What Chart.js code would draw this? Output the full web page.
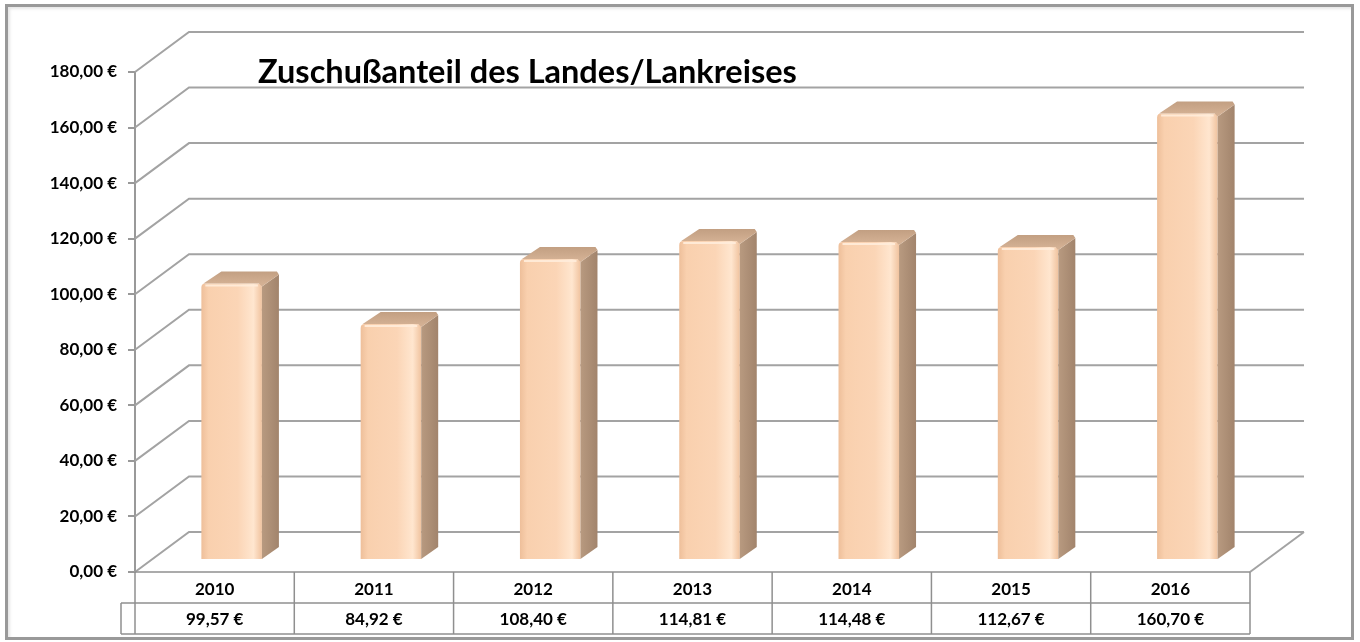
<!DOCTYPE html>
<html>
<head>
<meta charset="utf-8">
<script src="https://cdn.jsdelivr.net/npm/chart.js@4/dist/chart.umd.min.js"></script>
<style>
  html, body { margin: 0; padding: 0; background: #fff; }
  #wrap { position: relative; width: 1360px; height: 642px; }
  #frame {
    position: absolute; left: 5px; top: 4px; width: 1349px; height: 636px;
    border: 3px solid #999; box-sizing: border-box; pointer-events: none;
    box-shadow: inset 2px 2px 3px rgba(0,0,0,0.10);
  }
</style>
</head>
<body>
<div id="wrap">
  <canvas id="chart" width="1360" height="642"></canvas>
  <div id="frame"></div>
</div>
<script>
const years = ["2010", "2011", "2012", "2013", "2014", "2015", "2016"];
const amounts = [99.57, 84.92, 108.40, 114.81, 114.48, 112.67, 160.70];
const tickValues = [0, 20, 40, 60, 80, 100, 120, 140, 160, 180];
const chartTitle = "Zuschußanteil des Landes/Lankreises";

// 3D look: back wall offset, bar placement and bar depth
const WALL_X = 54, WALL_Y = -40;
const BAR_X = 17, BAR_Y = -12;
const SIDE_X = 17, SIDE_Y = -12;
const FONT = "Lato, 'Open Sans', sans-serif";

function euro(v) {
    return v.toFixed(2).replace(".", ",") + " €";
}

function line(ctx, x1, y1, x2, y2) {
    ctx.beginPath();
    ctx.moveTo(x1, y1);
    ctx.lineTo(x2, y2);
    ctx.stroke();
}

// front face of the columns
function frontFill(c) {
    const chart = c.chart;
    if (!chart.chartArea) return "#fad2b1";
    const x = chart.scales.x.getPixelForValue(c.dataIndex);
    const w = (chart.chartArea.right - chart.chartArea.left) / years.length * 0.38;
    const g = chart.ctx.createLinearGradient(x - w / 2, 0, x + w / 2, 0);
    g.addColorStop(0, "#eebf9a");
    g.addColorStop(0.12, "#f9d0ae");
    g.addColorStop(0.6, "#fbd5b6");
    g.addColorStop(0.86, "#ffe6cf");
    g.addColorStop(1, "#f0c39f");
    return g;
}

const walls = {
    id: "walls",
    beforeDatasetsDraw(chart) {
        const { ctx, chartArea: a, scales: { y } } = chart;
        ctx.save();
        ctx.strokeStyle = "#a3a3a3";
        ctx.lineWidth = 2;
        tickValues.forEach(v => {
            const py = y.getPixelForValue(v);
            ctx.beginPath();
            ctx.moveTo(a.left, py);
            ctx.lineTo(a.left + WALL_X, py + WALL_Y);
            ctx.lineTo(a.right + WALL_X, py + WALL_Y);
            ctx.stroke();
        });
        line(ctx, a.right, a.bottom, a.right + WALL_X, a.bottom + WALL_Y);

        ctx.fillStyle = "#000";
        ctx.font = "bold 32.5px " + FONT;
        ctx.textBaseline = "middle";
        ctx.textAlign = "left";
        ctx.fillText(chartTitle, 258, 73);
        ctx.restore();

        // columns stand a little behind the front edge
        ctx.save();
        ctx.translate(BAR_X, BAR_Y);
    },
    afterDatasetsDraw(chart) {
        const { ctx, chartArea: a, scales: { x } } = chart;

        chart.getDatasetMeta(0).data.forEach(bar => {
            const p = bar.getProps(["x", "y", "base", "width"], true);
            const l = p.x - p.width / 2, r = p.x + p.width / 2;

            let g = ctx.createLinearGradient(r, 0, r + SIDE_X, 0);
            g.addColorStop(0, "#b89a80");
            g.addColorStop(1, "#a2846c");
            ctx.fillStyle = g;
            ctx.beginPath();
            ctx.moveTo(r, p.y + 3);
            ctx.lineTo(r + SIDE_X, p.y + SIDE_Y + 3);
            ctx.lineTo(r + SIDE_X, p.base + SIDE_Y);
            ctx.lineTo(r, p.base);
            ctx.closePath();
            ctx.fill();

            g = ctx.createLinearGradient(0, p.y + SIDE_Y, 0, p.y);
            g.addColorStop(0, "#c29f82");
            g.addColorStop(1, "#d3b093");
            ctx.fillStyle = g;
            ctx.beginPath();
            ctx.moveTo(l + 2, p.y);
            ctx.lineTo(l + SIDE_X + 3, p.y + SIDE_Y);
            ctx.lineTo(r + SIDE_X - 2, p.y + SIDE_Y);
            ctx.lineTo(r + SIDE_X, p.y + SIDE_Y + 3);
            ctx.lineTo(r, p.y + 3);
            ctx.lineTo(r - 3, p.y);
            ctx.closePath();
            ctx.fill();

            ctx.strokeStyle = "rgba(255,236,218,0.9)";
            ctx.lineWidth = 2;
            line(ctx, l + 4, p.y + 2, r - 4, p.y + 2);
        });
        ctx.restore();

        // data table under the floor
        const top = a.bottom, mid = a.bottom + 31, bot = a.bottom + 62;
        const cw = (a.right - a.left) / years.length;
        ctx.save();
        ctx.strokeStyle = "#8f8f8f";
        ctx.lineWidth = 1.5;
        line(ctx, a.left, top, a.right, top);
        line(ctx, a.left - 14, mid, a.right, mid);
        line(ctx, a.left - 14, bot, a.right, bot);
        line(ctx, a.left - 14, mid, a.left - 14, bot);
        line(ctx, a.left, top, a.left, bot);
        for (let i = 1; i <= years.length; i++) {
            line(ctx, a.left + i * cw, top, a.left + i * cw, bot);
        }
        ctx.fillStyle = "#000";
        ctx.font = "bold 17px " + FONT;
        ctx.textAlign = "center";
        ctx.textBaseline = "middle";
        years.forEach((yr, i) => {
            const cx = x.getPixelForValue(i);
            ctx.fillText(yr, cx, top + 18);
            ctx.fillText(euro(amounts[i]), cx, mid + 17);
        });
        ctx.restore();
    }
};

new Chart(document.getElementById("chart"), {
    type: "bar",
    data: {
        labels: years,
        datasets: [{
            data: amounts,
            backgroundColor: frontFill,
            borderRadius: { topLeft: 4, topRight: 4 },
            borderSkipped: "bottom",
            barPercentage: 0.38,
            categoryPercentage: 1
        }]
    },
    options: {
        responsive: false,
        animation: false,
        layout: { padding: { top: 72, right: 110, bottom: 70, left: 0 } },
        plugins: {
            legend: { display: false },
            tooltip: { enabled: false },
            title: { display: false }
        },
        scales: {
            x: { display: false },
            y: {
                min: 0,
                max: 180,
                afterBuildTicks: s => { s.ticks = tickValues.map(v => ({ value: v })); },
                afterFit: s => { s.width = 135; },
                ticks: {
                    padding: 11,
                    color: "#000",
                    font: { family: FONT, size: 17, weight: "bold" },
                    callback: v => euro(v)
                },
                grid: { drawOnChartArea: false, tickLength: 7, color: "#999", lineWidth: 2 },
                border: { color: "#999", width: 2 }
            }
        }
    },
    plugins: [walls]
});
</script>
</body>
</html>
